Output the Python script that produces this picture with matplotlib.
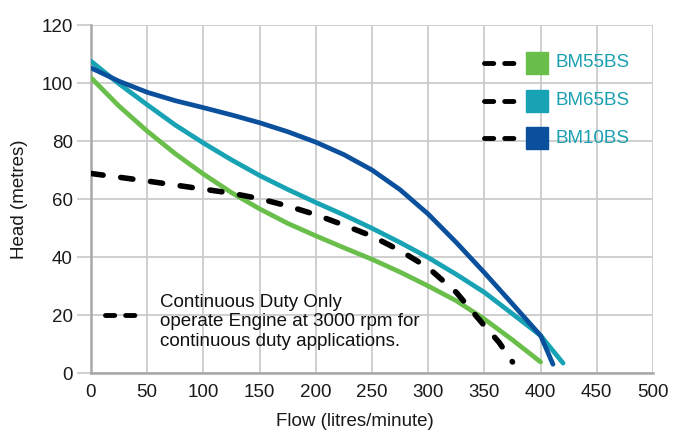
import matplotlib.pyplot as plt
from matplotlib.lines import Line2D

plt.rcParams['font.family'] = ['Liberation Sans', 'DejaVu Sans']

# pump curves (flow l/min, head m)
flow_55 = [0, 25, 50, 75, 100, 125, 150, 175, 200, 225, 250, 275, 300, 325, 350, 375, 400]
head_55 = [101.8, 92.0, 83.4, 75.6, 68.6, 62.2, 56.6, 51.6, 47.3, 43.2, 39.2, 34.8, 30.0, 24.9, 18.6, 11.4, 3.8]

flow_65 = [0, 25, 50, 75, 100, 125, 150, 175, 200, 225, 250, 275, 300, 325, 350, 375, 400, 420]
head_65 = [107.5, 99.7, 92.5, 85.5, 79.3, 73.5, 68.1, 63.3, 58.8, 54.5, 49.9, 45.0, 39.8, 34.0, 27.8, 20.4, 12.9, 3.4]

flow_10 = [0, 25, 50, 75, 100, 125, 150, 175, 200, 225, 250, 275, 300, 325, 350, 375, 400, 411]
head_10 = [105.2, 100.6, 96.8, 93.9, 91.5, 89.0, 86.3, 83.2, 79.6, 75.3, 70.0, 63.2, 54.8, 45.0, 34.6, 23.8, 12.9, 3.0]

flow_cd = [0, 50, 100, 125, 150, 175, 200, 225, 250, 275, 300, 325, 350, 363, 375]
head_cd = [68.8, 66.2, 63.4, 62.0, 60.1, 57.6, 54.6, 51.0, 47.2, 42.2, 36.3, 27.8, 16.3, 10.6, 3.8]

models = ['BM55BS', 'BM65BS', 'BM10BS']
colors = ['#6abf4b', '#17a3b4', '#0b509c']
note = 'Continuous Duty Only\noperate Engine at 3000 rpm for\ncontinuous duty applications.'

fs = 13.5
fig = plt.figure(figsize=(6.92, 4.47), dpi=100)
ax = fig.add_axes([91 / 692, 1 - 373 / 447, 562 / 692, 348 / 447])

for fl, hd, c in zip([flow_55, flow_65, flow_10], [head_55, head_65, head_10], colors):
    ax.plot(fl, hd, color=c, lw=3.4, solid_capstyle='round', solid_joinstyle='round', zorder=3)
ax.plot(flow_cd, head_cd, color='black', lw=4, dashes=(2.2, 3.2),
        dash_capstyle='round', zorder=4)

ax.set_xlim(0, 500)
ax.set_ylim(0, 120)
ax.set_xticks(range(0, 501, 50))
ax.set_yticks(range(0, 121, 20))
ax.grid(True, color='#cccccc', lw=1.3, zorder=0)
ax.set_axisbelow(True)
for s in ['top', 'right']:
    ax.spines[s].set_visible(False)
for s in ['left', 'bottom']:
    ax.spines[s].set_color('#a8a8a8')
    ax.spines[s].set_linewidth(1.8)
ax.tick_params(axis='y', length=10, width=1.3, color='#cccccc', pad=3, labelsize=fs, labelcolor='#1a1a1a')
ax.tick_params(axis='x', length=0, pad=8, labelsize=fs, labelcolor='#1a1a1a')
ax.set_xlabel('Flow (litres/minute)', fontsize=fs, color='#1a1a1a')
ax.xaxis.set_label_coords(0.47, -0.115)
ax.set_ylabel('Head (metres)', fontsize=fs, color='#1a1a1a')
ax.yaxis.set_label_coords(-0.112, 0.5)

# legend drawn by hand: dashes + colour square + label
for i, (m, c) in enumerate(zip(models, colors)):
    y = 0.891 - i * 0.108
    ax.add_line(Line2D([0.700, 0.754], [y, y], transform=ax.transAxes, color='black',
                       lw=3.5, dashes=(1.9, 2.25), dash_capstyle='round', clip_on=False))
    ax.add_line(Line2D([0.794], [y], transform=ax.transAxes, marker='s', markersize=16,
                       color=c, lw=0, clip_on=False))
    ax.text(0.826, y, m, transform=ax.transAxes, fontsize=fs, color='#1aa0b0',
            va='center', ha='left')

# continuous duty note
ax.add_line(Line2D([0.025, 0.080], [0.167, 0.167], transform=ax.transAxes, color='black',
                   lw=3.5, dashes=(1.9, 2.25), dash_capstyle='round'))
ax.text(0.123, 0.147, note, transform=ax.transAxes, fontsize=fs, color='#111111',
        va='center', ha='left', linespacing=1.2)

fig.savefig('out.png', dpi=100)
